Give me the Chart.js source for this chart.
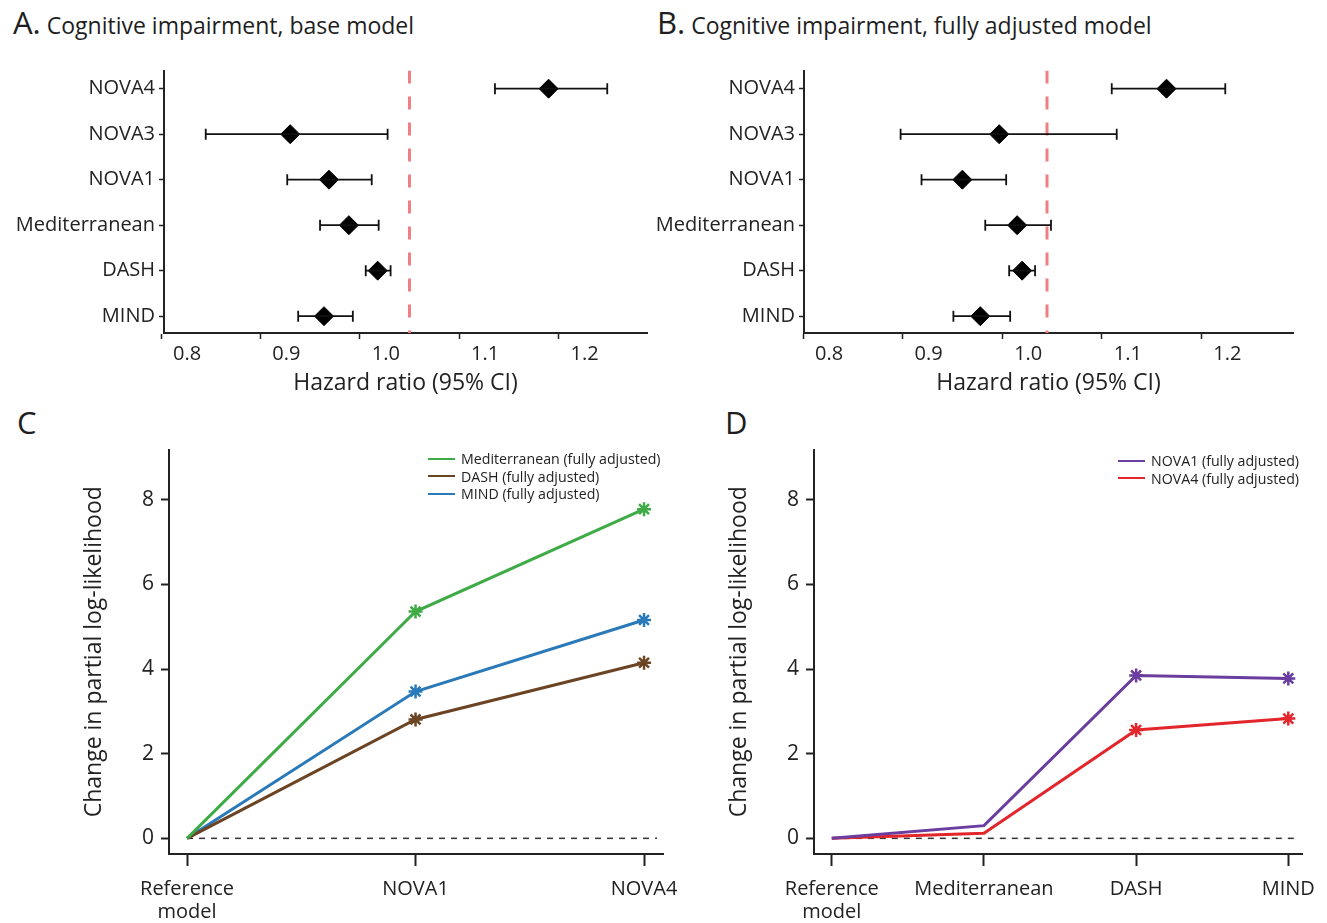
<!DOCTYPE html>
<html>
<head>
<meta charset="utf-8">
<script src="https://cdn.jsdelivr.net/npm/chart.js@4.4.1/dist/chart.umd.min.js"></script>
<style>
  body { margin: 0; background: #fff; font-family: 'Open Sans', sans-serif; color: #1e1e1e; }
  #page { position: relative; width: 1327px; height: 923px; overflow: hidden; }
  canvas { position: absolute; }
  .head { position: absolute; white-space: nowrap; font-size: 23px; line-height: 32px; }
  .head .tag { font-size: 31px; }
  .legend { position: absolute; font-size: 14.2px; line-height: 17.5px; color: #222; }
  .legend .row { display: flex; align-items: center; white-space: nowrap; }
  .legend .sw { display: inline-block; width: 27px; height: 2px; margin-right: 6px; }
</style>
</head>
<body>
<div id="page">
  <div class="head" style="left:13px; top:6px;"><span class="tag">A.</span> Cognitive impairment, base model</div>
  <div class="head" style="left:657px; top:6px;"><span class="tag">B.</span> Cognitive impairment, fully adjusted model</div>
  <div class="head" style="left:17px; top:406px;"><span class="tag">C</span></div>
  <div class="head" style="left:725px; top:406px;"><span class="tag">D</span></div>

  <canvas id="chartA" width="660" height="345" style="left:0; top:60px;"></canvas>
  <canvas id="chartB" width="677" height="345" style="left:650px; top:60px;"></canvas>
  <canvas id="chartC" width="680" height="483" style="left:0; top:440px;"></canvas>
  <canvas id="chartD" width="627" height="483" style="left:700px; top:440px;"></canvas>

  <div class="legend" id="legendC" style="left:428px; top:450px;"></div>
  <div class="legend" id="legendD" style="left:1118px; top:452px;"></div>
</div>

<script>
// forest plots (A, B)
const rowNames = ['NOVA4', 'NOVA3', 'NOVA1', 'Mediterranean', 'DASH', 'MIND'];
const hrTicks = [0.8, 0.9, 1.0, 1.1, 1.2];
const hrTickLabels = ['0.8', '0.9', '1.0', '1.1', '1.2'];

const baseEst = [1.164, 0.904, 0.943, 0.963, 0.992, 0.938];
const baseLo  = [1.110, 0.819, 0.901, 0.934, 0.980, 0.912];
const baseHi  = [1.223, 1.002, 0.986, 0.993, 1.005, 0.967];
const baseRef = 1.024;

const adjEst = [1.139, 0.971, 0.934, 0.989, 0.994, 0.952];
const adjLo  = [1.084, 0.872, 0.893, 0.957, 0.981, 0.925];
const adjHi  = [1.198, 1.089, 0.978, 1.023, 1.007, 0.982];
const adjRef = 1.019;

// log-likelihood panels (C, D)
const stepsC = [['Reference', 'model'], 'NOVA1', 'NOVA4'];
const markedC = [false, true, true];
const medC  = [0, 5.36, 7.78];
const dashC = [0, 2.81, 4.15];
const mindC = [0, 3.47, 5.16];

const stepsD = [['Reference', 'model'], 'Mediterranean', 'DASH', 'MIND'];
const markedD = [false, false, true, true];
const nova1D = [0, 0.30, 3.85, 3.78];
const nova4D = [0, 0.12, 2.56, 2.83];

const llTicks = [0, 2, 4, 6, 8];

Chart.defaults.font.family = "'Open Sans', sans-serif";
Chart.defaults.color = '#222';

const axisLine = { color: '#222', width: 2 };

// keep chart areas where they are in the original: no extra room for edge labels
function noPadX(s, h) { s.height = h; s.paddingLeft = 0; s.paddingRight = 0; }
function noPadY(s, w) { s.width = w; s.paddingTop = 0; s.paddingBottom = 0; }

function forest(id, est, lo, hi, refX, o) {
    const datasets = [];
    rowNames.forEach((n, i) => {
        datasets.push({
            data: [{ x: lo[i], y: i }, { x: hi[i], y: i }],
            showLine: true,
            borderColor: '#111',
            borderWidth: 1.8,
            pointStyle: 'line',
            pointRotation: 90,
            pointRadius: 5.5,
            pointBorderWidth: 1.8,
            pointBorderColor: '#111'
        });
    });
    datasets.push({
        data: est.map((v, i) => ({ x: v, y: i })),
        pointStyle: 'rectRot',
        pointRadius: 9.5,
        pointBackgroundColor: '#000',
        pointBorderColor: '#000',
        pointBorderWidth: 1
    });
    // reference line
    datasets.push({
        data: [{ x: refX, y: -0.4 }, { x: refX, y: 5.37 }],
        showLine: true,
        borderColor: '#f07f84',
        borderWidth: 3,
        borderDash: [13, 13],
        pointRadius: 0
    });

    new Chart(document.getElementById(id), {
        type: 'scatter',
        data: { datasets },
        options: {
            responsive: false,
            animation: false,
            events: [],
            layout: { padding: { top: o.top, right: o.right, left: 0, bottom: 0 } },
            plugins: { legend: { display: false }, tooltip: { enabled: false } },
            scales: {
                x: {
                    type: 'linear',
                    min: o.xmin,
                    max: o.xmax,
                    afterFit: s => noPadX(s, o.xh),
                    // tick marks sit a little left of their labels in the original
                    afterBuildTicks: s => { s.ticks = hrTicks.map(v => ({ value: v - 0.026 })); },
                    ticks: {
                        autoSkip: false, maxRotation: 0, labelOffset: 26, padding: 3,
                        color: '#222', font: { size: 20 },
                        callback: (v, i) => hrTickLabels[i]
                    },
                    grid: { drawOnChartArea: false, tickLength: 6, tickColor: '#222', tickWidth: 1.5 },
                    border: axisLine,
                    title: {
                        display: true, text: 'Hazard ratio (95% CI)', color: '#222',
                        font: { size: 23 }, padding: { top: 0, bottom: 8 }
                    }
                },
                y: {
                    type: 'linear',
                    min: -0.4,
                    max: 5.37,
                    reverse: true,
                    afterFit: s => noPadY(s, o.yw),
                    afterBuildTicks: s => { s.ticks = rowNames.map((n, i) => ({ value: i })); },
                    ticks: {
                        autoSkip: false, padding: 4, color: '#222', font: { size: 20 },
                        callback: v => rowNames[v]
                    },
                    grid: { drawOnChartArea: false, tickLength: 5, tickColor: '#222', tickWidth: 1.5 },
                    border: axisLine
                }
            }
        }
    });
}

const zeroLine = {
    id: 'zeroLine',
    beforeDatasetsDraw(chart) {
        const { ctx, chartArea, scales: { x, y } } = chart;
        const py = y.getPixelForValue(0);
        ctx.save();
        ctx.strokeStyle = '#333';
        ctx.lineWidth = 1.5;
        ctx.setLineDash([6, 6]);
        ctx.beginPath();
        ctx.moveTo(x.getPixelForValue(0), py);
        ctx.lineTo(chartArea.right - 6, py);
        ctx.stroke();
        ctx.restore();
    }
};

function llChart(id, legendId, steps, marked, series, o) {
    new Chart(document.getElementById(id), {
        type: 'line',
        data: {
            datasets: series.map(s => ({
                label: s.label,
                data: s.values.map((v, i) => ({ x: i, y: v })),
                borderColor: s.color,
                borderWidth: 3,
                pointStyle: 'star',
                pointRadius: c => marked[c.dataIndex] ? 7 : 0,
                pointBorderColor: s.color,
                pointBackgroundColor: s.color,
                pointBorderWidth: 2.5,
                tension: 0
            }))
        },
        options: {
            responsive: false,
            animation: false,
            events: [],
            layout: { padding: { top: o.top, right: o.right, left: 0, bottom: 0 } },
            plugins: { legend: { display: false }, tooltip: { enabled: false } },
            scales: {
                x: {
                    type: 'linear',
                    min: o.xmin,
                    max: o.xmax,
                    afterFit: s => noPadX(s, o.xh),
                    afterBuildTicks: s => { s.ticks = steps.map((n, i) => ({ value: i })); },
                    ticks: {
                        autoSkip: false, maxRotation: 0, padding: 12, color: '#222',
                        font: { size: 20, lineHeight: 1.15 },
                        callback: v => steps[v]
                    },
                    grid: { drawOnChartArea: false, tickLength: 12, tickColor: '#222', tickWidth: 2 },
                    border: axisLine
                },
                y: {
                    type: 'linear',
                    min: -0.37,
                    max: 9.19,
                    afterFit: s => noPadY(s, o.yw),
                    afterBuildTicks: s => { s.ticks = llTicks.map(v => ({ value: v })); },
                    ticks: { padding: 7, color: '#222', font: { size: 21 } },
                    grid: { drawOnChartArea: false, tickLength: 8, tickColor: '#222', tickWidth: 2 },
                    border: axisLine,
                    title: {
                        display: true, text: 'Change in partial log-likelihood', color: '#222',
                        font: { size: 23 }, padding: { top: o.titlePad, bottom: 0 }
                    }
                }
            }
        },
        plugins: [zeroLine]
    });

    const leg = document.getElementById(legendId);
    series.forEach(s => {
        const row = document.createElement('div');
        row.className = 'row';
        const sw = document.createElement('span');
        sw.className = 'sw';
        sw.style.background = s.color;
        row.appendChild(sw);
        row.appendChild(document.createTextNode(s.label));
        leg.appendChild(row);
    });
}

forest('chartA', baseEst, baseLo, baseHi, baseRef,
    { top: 10, right: 13, xmin: 0.777, xmax: 1.263, xh: 72, yw: 164 });
forest('chartB', adjEst, adjLo, adjHi, adjRef,
    { top: 10, right: 34, xmin: 0.775, xmax: 1.266, xh: 72, yw: 154 });

llChart('chartC', 'legendC', stepsC, markedC, [
    { label: 'Mediterranean (fully adjusted)', values: medC, color: '#3fab47' },
    { label: 'DASH (fully adjusted)', values: dashC, color: '#6b4424' },
    { label: 'MIND (fully adjusted)', values: mindC, color: '#2a7ab9' }
], { top: 7, right: 17, xmin: -0.079, xmax: 2.083, xh: 69, yw: 169, titlePad: 81 });

llChart('chartD', 'legendD', stepsD, markedD, [
    { label: 'NOVA1 (fully adjusted)', values: nova1D, color: '#6a3d9e' },
    { label: 'NOVA4 (fully adjusted)', values: nova4D, color: '#e3262b' }
], { top: 7, right: 25, xmin: -0.117, xmax: 3.09, xh: 69, yw: 114, titlePad: 26 });
</script>
</body>
</html>
